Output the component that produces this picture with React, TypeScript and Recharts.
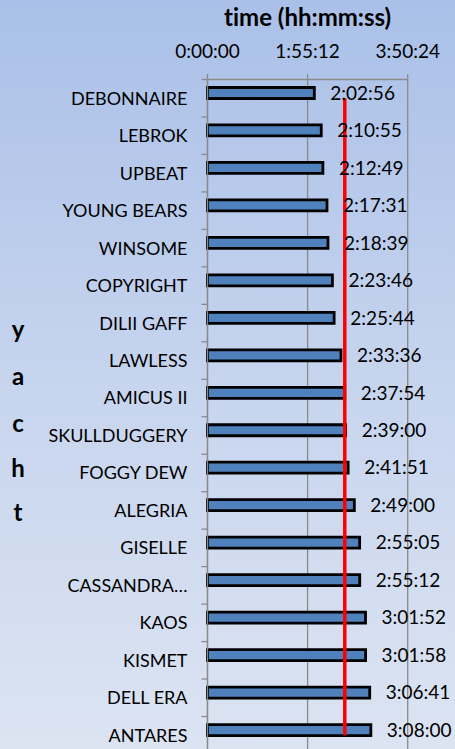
import React from "react";
import { ComposedChart, Bar, Line, XAxis, YAxis, CartesianGrid, LabelList } from "recharts";

const yachts = [
  "DEBONNAIRE", "LEBROK", "UPBEAT", "YOUNG BEARS", "WINSOME", "COPYRIGHT",
  "DILII GAFF", "LAWLESS", "AMICUS II", "SKULLDUGGERY", "FOGGY DEW", "ALEGRIA",
  "GISELLE", "CASSANDRA…", "KAOS", "KISMET", "DELL ERA", "ANTARES",
];
const finishTimes = [
  "2:02:56", "2:10:55", "2:12:49", "2:17:31", "2:18:39", "2:23:46",
  "2:25:44", "2:33:36", "2:37:54", "2:39:00", "2:41:51", "2:49:00",
  "2:55:05", "2:55:12", "3:01:52", "3:01:58", "3:06:41", "3:08:00",
];
const axisTicks = [0, 6912, 13824]; // 0:00:00, 1:55:12, 3:50:24
const averageTime = 9480; // red reference line (~2:38:00)
const yTitleLetters = ["y", "a", "c", "h", "t"];

const toSeconds = (s: string) => {
  const [h, m, sec] = s.split(":").map(Number);
  return h * 3600 + m * 60 + sec;
};
const fmt = (v: number) => {
  const h = Math.floor(v / 3600);
  const m = Math.floor((v % 3600) / 60);
  const s = Math.round(v % 60);
  return `${h}:${String(m).padStart(2, "0")}:${String(s).padStart(2, "0")}`;
};

const data = yachts.map((name, i) => ({
  yacht: name,
  seconds: toSeconds(finishTimes[i]),
  label: finishTimes[i],
  avg: averageTime,
}));

const FONT = "Lato";
const W = 455;
const PLOT_LEFT = 207.5;
const PLOT_RIGHT = 407.7;
const PLOT_TOP = 79.5;
const PLOT_H = 674.5;
const BAND = PLOT_H / yachts.length;
const GRID = "#8a8a8a";
const Y_MARGIN = 20;
const noLig = { fontVariantLigatures: "none" as const };

const XTick = (props: any) => {
  const { x, y, payload } = props;
  return (
    <g>
      <line x1={x} x2={x} y1={y - 5.5} y2={y} stroke={GRID} strokeWidth={1.3} />
      <text x={x} y={y - 21.5} textAnchor="middle" fontFamily={FONT} fontSize={19} fill="#000">
        {fmt(payload.value)}
      </text>
    </g>
  );
};

const YTick = (props: any) => {
  const { x, y, payload } = props;
  const ax = x + Y_MARGIN;
  return (
    <g>
      <line x1={ax - 6} x2={ax} y1={y - BAND / 2} y2={y - BAND / 2} stroke={GRID} strokeWidth={1.3} />
      <text x={x} y={y} dy="0.36em" textAnchor="end" fontFamily={FONT} fontSize={18} fill="#000" style={noLig}>
        {payload.value}
      </text>
    </g>
  );
};

export default function App() {
  return (
    <div
      style={{
        position: "absolute",
        left: 0,
        top: 0,
        width: W,
        height: 749,
        overflow: "hidden",
        background: "linear-gradient(to bottom, #aac0e8 0%, #c6d4ee 50%, #dce4f2 100%)",
      }}
    >
      <ComposedChart
        layout="vertical"
        width={W}
        height={PLOT_TOP + PLOT_H}
        data={data}
        margin={{ top: 0, right: W - PLOT_RIGHT, bottom: 0, left: 0 }}
        barGap={0}
        barCategoryGap={0}
      >
        <CartesianGrid horizontal={false} vertical stroke={GRID} strokeWidth={1.3} />
        <XAxis
          type="number"
          orientation="top"
          domain={[0, 13824]}
          ticks={axisTicks}
          height={PLOT_TOP}
          tickSize={0}
          tickMargin={0}
          tickLine={false}
          axisLine={{ stroke: GRID, strokeWidth: 1.3 }}
          tick={<XTick />}
          interval={0}
        />
        <YAxis
          type="category"
          dataKey="yacht"
          width={PLOT_LEFT}
          tickSize={0}
          tickMargin={Y_MARGIN}
          tickLine={false}
          axisLine={{ stroke: GRID, strokeWidth: 1.3 }}
          tick={<YTick />}
          interval={0}
        />
        <Bar
          dataKey="seconds"
          barSize={11}
          fill="#4f81bd"
          stroke="#000"
          strokeWidth={2.8}
          isAnimationActive={false}
        >
          <LabelList dataKey="label" position="right" offset={16} fill="#000" fontSize={19} fontFamily={FONT} />
        </Bar>
        <Bar dataKey="avg" barSize={9.6} fill="none" stroke="none" isAnimationActive={false} />
        <Line
          dataKey="avg"
          stroke="#ff0000"
          strokeWidth={3.5}
          dot={false}
          activeDot={false}
          isAnimationActive={false}
        />
      </ComposedChart>
      <svg
        width={W}
        height={749}
        style={{ position: "absolute", left: 0, top: 0, pointerEvents: "none" }}
      >
        <text x={(PLOT_LEFT + PLOT_RIGHT) / 2} y={26} textAnchor="middle" fontFamily={FONT} fontWeight="bold" fontSize={24} fill="#000" style={noLig}>
          time (hh:mm:ss)
        </text>
        {yTitleLetters.map((ch, i) => (
          <text key={i} x={18} y={[338, 385, 432, 477, 521][i]} textAnchor="middle" fontFamily={FONT} fontWeight="bold" fontSize={24} fill="#000">
            {ch}
          </text>
        ))}
      </svg>
    </div>
  );
}
